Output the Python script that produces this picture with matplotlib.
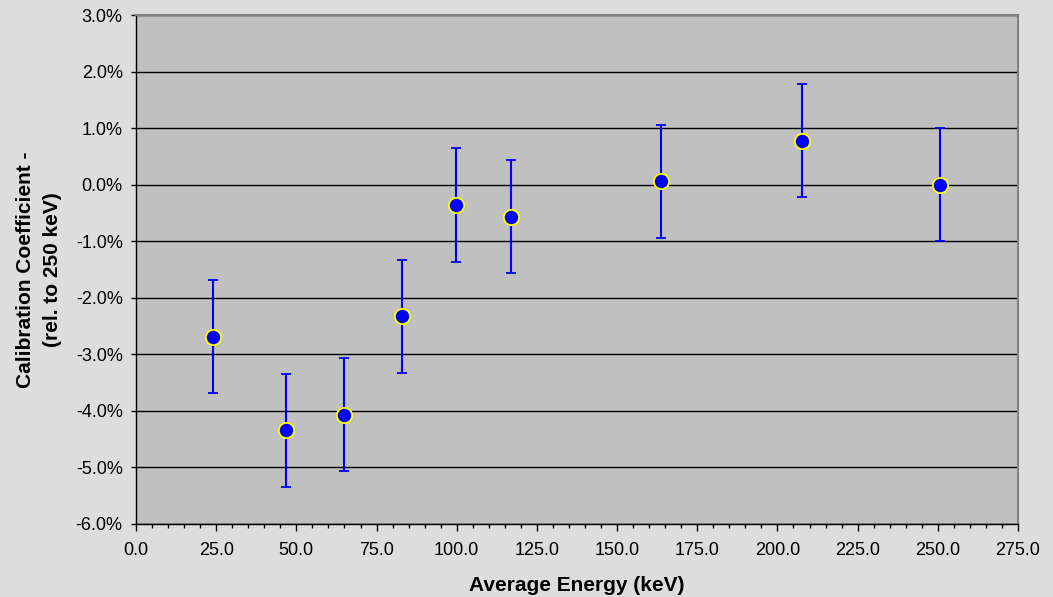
import numpy as np
import matplotlib.pyplot as plt
from matplotlib.ticker import MultipleLocator, FuncFormatter

# Average energy (keV) and relative calibration coefficient (%)
energy = [24.0, 46.9, 64.9, 82.9, 99.7, 116.8, 163.6, 207.5, 250.8]
coeff = [-2.69, -4.34, -4.07, -2.33, -0.36, -0.57, 0.06, 0.78, 0.0]
err = [1.0, 1.0, 1.0, 1.0, 1.0, 1.0, 1.0, 1.0, 1.0]

plt.rcParams['font.family'] = ['Liberation Sans', 'DejaVu Sans']

fig = plt.figure(figsize=(10.53, 5.97), dpi=100, facecolor='#dddddd')
ax = fig.add_axes([136 / 1053, 1 - 524 / 597, 882 / 1053, 509 / 597])
ax.set_facecolor('#c0c0c0')

ax.errorbar(energy, coeff, yerr=err, fmt='o', color='blue', ecolor='blue',
            elinewidth=1.5, capsize=3.5, capthick=1.5, markersize=11,
            markerfacecolor='blue', markeredgecolor='yellow', markeredgewidth=1.3,
            zorder=3)

ax.set_xlim(0, 275)
ax.set_ylim(-6, 3)
ax.xaxis.set_major_locator(MultipleLocator(25))
ax.xaxis.set_minor_locator(MultipleLocator(5))
ax.yaxis.set_major_locator(MultipleLocator(1))
ax.xaxis.set_major_formatter(FuncFormatter(lambda v, p: f"{v:.1f}"))
ax.yaxis.set_major_formatter(FuncFormatter(lambda v, p: f"{v:.1f}%"))

ax.grid(axis='y', color='black', linewidth=1.0, zorder=1)
ax.set_axisbelow(True)

ax.tick_params(axis='both', which='major', direction='out', width=1,
               labelsize=13, colors='black')
ax.tick_params(axis='x', which='major', length=5, pad=8)
ax.tick_params(axis='x', which='minor', direction='out', length=3, width=1)
ax.tick_params(axis='y', which='major', length=3.6, pad=6)

for side in ['top', 'right']:
    ax.spines[side].set_color('#808080')
    ax.spines[side].set_linewidth(1.5)
for side in ['left', 'bottom']:
    ax.spines[side].set_color('black')
    ax.spines[side].set_linewidth(1)

ax.set_xlabel('Average Energy (keV)', fontsize=15, fontweight='bold', labelpad=12)
ax.set_ylabel('Calibration Coefficient -\n(rel. to 250 keV)', fontsize=15,
              fontweight='bold', labelpad=10, linespacing=1.5)

fig.savefig('out.png', dpi=100, facecolor=fig.get_facecolor())
